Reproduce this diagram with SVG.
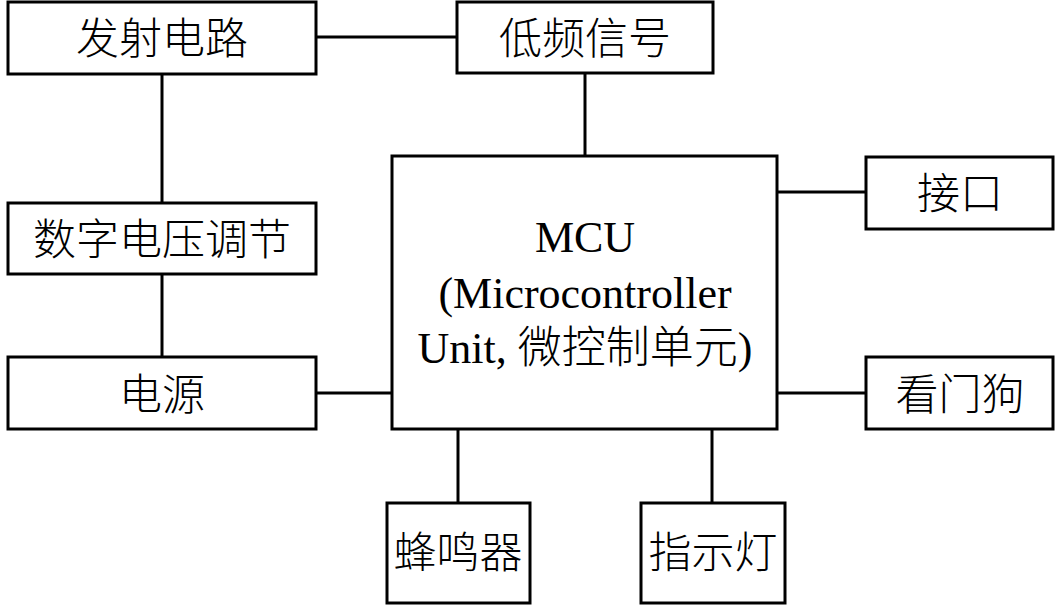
<svg xmlns="http://www.w3.org/2000/svg" width="1063" height="606" viewBox="0 0 1063 606">
<style>
.box{fill:#fff;stroke:#000;stroke-width:3}
.ln{stroke:#000;stroke-width:3;fill:none}
text{font-family:"Liberation Serif","Noto Sans CJK SC",serif;font-size:43px;font-weight:300;fill:#000;text-anchor:middle}
.m{font-size:44px}
</style>
<rect width="1063" height="606" fill="#fff"/>
<g id="connectors">
<line class="ln" x1="316" y1="37" x2="457" y2="37"/>
<line class="ln" x1="162" y1="74" x2="162" y2="203"/>
<line class="ln" x1="162" y1="274" x2="162" y2="357"/>
<line class="ln" x1="585" y1="73" x2="585" y2="156"/>
<line class="ln" x1="316" y1="393" x2="392" y2="393"/>
<line class="ln" x1="777" y1="192" x2="866" y2="192"/>
<line class="ln" x1="777" y1="393" x2="866" y2="393"/>
<line class="ln" x1="458" y1="429" x2="458" y2="503"/>
<line class="ln" x1="712" y1="429" x2="712" y2="503"/>
</g>
<g id="n-fashe"><rect class="box" x="8" y="2" width="308" height="72"/><text x="162" y="54">发射电路</text></g>
<g id="n-dipin"><rect class="box" x="457" y="2" width="256" height="71"/><text x="585" y="54">低频信号</text></g>
<g id="n-shuzi"><rect class="box" x="8" y="203" width="308" height="71"/><text x="162" y="255">数字电压调节</text></g>
<g id="n-dianyuan"><rect class="box" x="8" y="357" width="308" height="72"/><text x="162" y="410">电源</text></g>
<g id="n-mcu"><rect class="box" x="392" y="156" width="385" height="273"/>
<text class="m" x="585" y="252">MCU</text>
<text class="m" x="585" y="308">(Microcontroller</text>
<text class="m" x="585" y="363">Unit, 微控制单元)</text></g>
<g id="n-jiekou"><rect class="box" x="866" y="157" width="187" height="72"/><text x="960" y="209">接口</text></g>
<g id="n-kanmen"><rect class="box" x="866" y="357" width="187" height="72"/><text x="960" y="410">看门狗</text></g>
<g id="n-fengming"><rect class="box" x="387" y="503" width="143" height="100"/><text x="458" y="568">蜂鸣器</text></g>
<g id="n-zhishi"><rect class="box" x="641" y="503" width="144" height="100"/><text x="713" y="568">指示灯</text></g>
</svg>
